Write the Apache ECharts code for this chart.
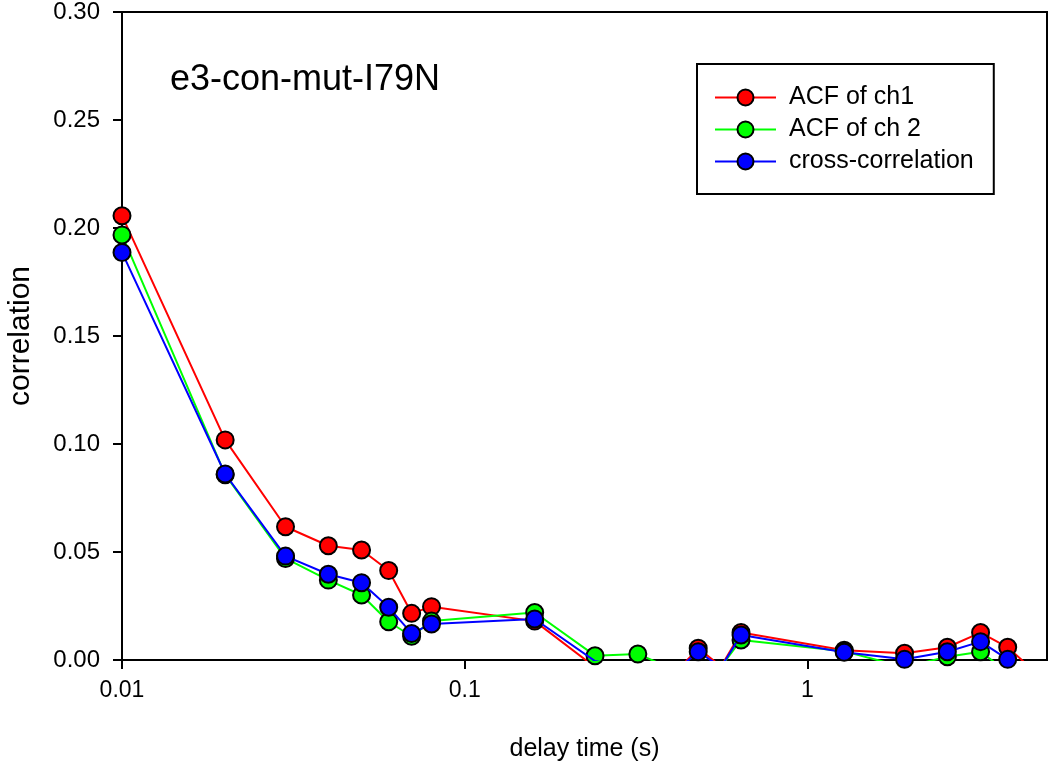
<!DOCTYPE html>
<html>
<head>
<meta charset="utf-8">
<script src="https://cdn.jsdelivr.net/npm/echarts@6/dist/echarts.min.js"></script>
<style>
html,body{margin:0;padding:0;background:#fff;}
#chart{width:1050px;height:768px;}
</style>
</head>
<body>
<div id="chart"></div>
<script>
// delay times (s)
const delayTimes = [0.01,0.02,0.03,0.04,0.05,0.06,0.07,0.08,0.16,0.24,0.32,0.40,0.48,0.56,0.64,1.28,1.92,2.56,3.2,3.84,4.48];
// ACF of channel 1
const acfCh1 = [0.2057,0.1019,0.0617,0.0529,0.0509,0.0414,0.0216,0.0247,0.0180,-0.0033,-0.0060,-0.0080,0.0054,-0.0030,0.0127,0.0045,0.0031,0.0059,0.0127,0.0059,-0.0037];
// ACF of channel 2
const acfCh2 = [0.1968,0.0858,0.0470,0.0370,0.0301,0.0177,0.0110,0.0180,0.0220,0.0020,0.0028,-0.0039,-0.0040,-0.0030,0.0093,0.0040,-0.0033,0.0015,0.0038,-0.0056,-0.0050];
// cross-correlation
const crossCorr = [0.1887,0.0861,0.0481,0.0397,0.0358,0.0244,0.0123,0.0167,0.0190,-0.0005,-0.0040,-0.0070,0.0038,-0.0033,0.0116,0.0036,0.0003,0.0038,0.0085,0.0003,-0.0040];
const seriesNames = ['ACF of ch1','ACF of ch 2','cross-correlation'];
const seriesColors = ['#ff0000','#00ff00','#0000ff'];
const xTickValues = [0.01,0.1,1];
const titleText = 'e3-con-mut-I79N';

const FONT = 'Liberation Sans, Arial, sans-serif';
const chart = echarts.init(document.getElementById('chart'), null, {renderer:'canvas'});
const allSeries = [acfCh1, acfCh2, crossCorr];

chart.setOption({
  animation: false,
  backgroundColor: '#ffffff',
  title: {
    text: titleText,
    left: 165, top: 57,
    textStyle: {fontFamily: FONT, fontSize: 36, fontWeight: 'normal', color: '#000'}
  },
  legend: {
    left: 697, top: 64,
    orient: 'vertical',
    backgroundColor: '#fff',
    borderColor: '#000', borderWidth: 2, borderRadius: 0,
    padding: [21, 20, 20, 17],
    itemWidth: 61, itemHeight: 20, itemGap: 7,
    textStyle: {fontFamily: FONT, fontSize: 25, color: '#000', padding: [0,0,0,8]},
    data: seriesNames
  },
  grid: {
    left: 122, right: 3, top: 12, bottom: 108,
    outerBoundsMode: 'none',
    containLabel: false,
    show: true, borderColor: '#000', borderWidth: 2, backgroundColor: 'transparent'
  },
  xAxis: {
    type: 'log', logBase: 10, min: 0.01, max: 5,
    name: 'delay time (s)', nameLocation: 'middle', nameGap: 77,
    nameTextStyle: {fontFamily: FONT, fontSize: 25, color: '#000'},
    axisLine: {show: true, lineStyle: {color: '#000', width: 2}},
    axisTick: {show: true, inside: false, length: 9, lineStyle: {color: '#000', width: 2}, customValues: xTickValues},
    axisLabel: {fontFamily: FONT, fontSize: 23, color: '#000', margin: 19, customValues: xTickValues,
      formatter: v => String(v)},
    splitLine: {show: false},
    minorTick: {show: false}
  },
  yAxis: {
    type: 'value', min: 0, max: 0.3, interval: 0.05,
    name: 'correlation', nameLocation: 'middle', nameGap: 86, nameRotate: 90,
    nameTextStyle: {fontFamily: FONT, fontSize: 30, color: '#000'},
    axisLine: {show: true, lineStyle: {color: '#000', width: 2}},
    axisTick: {show: true, inside: false, length: 9, lineStyle: {color: '#000', width: 2}},
    axisLabel: {fontFamily: FONT, fontSize: 24, color: '#000', margin: 22, formatter: v => v.toFixed(2)},
    splitLine: {show: false}
  },
  series: seriesNames.map((name, i) => ({
    name: name,
    type: 'line',
    data: delayTimes.map((t, k) => [t, allSeries[i][k]]),
    clip: true,
    symbol: 'circle',
    symbolSize: 17,
    showAllSymbol: true,
    color: seriesColors[i],
    lineStyle: {color: seriesColors[i], width: 2},
    itemStyle: {color: seriesColors[i], borderColor: '#000', borderWidth: 2},
    z: 2 + i
  }))
});
</script>
</body>
</html>
